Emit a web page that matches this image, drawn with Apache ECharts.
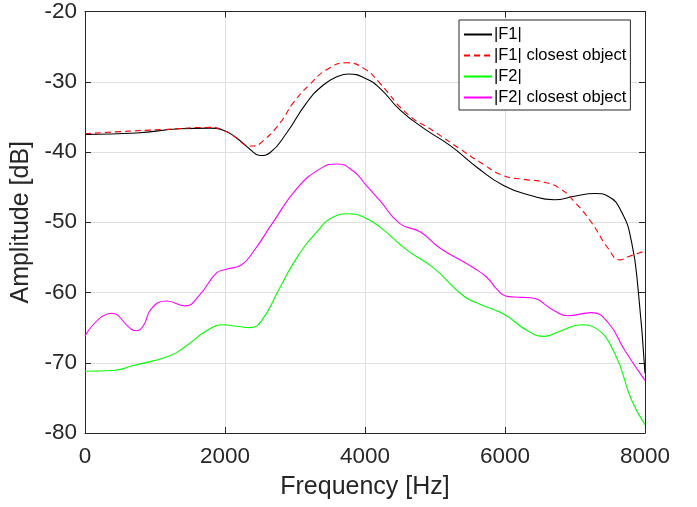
<!DOCTYPE html>
<html>
<head>
<meta charset="utf-8">
<script src="https://cdn.jsdelivr.net/npm/echarts@6/dist/echarts.min.js"></script>
<style>html,body{margin:0;padding:0;background:#fff}#c{width:697px;height:507px}</style>
</head>
<body>
<div id="c"></div>
<script>
var seriesNames = ['|F1|', '|F1| closest object', '|F2|', '|F2| closest object'];
var xTicks = [0, 2000, 4000, 6000, 8000];
var yTicks = [-80, -70, -60, -50, -40, -30, -20];

var f1Freq = [0,740,1357,1785,1975,2166,2356,2500,2642,2880,3165,3400,3600,3770,4000,4211,4499,4835,5218,5602,5986,6369,6705,6993,7281,7472,7664,7808,7904,8000];
var f1Amp  = [-37.5,-37.3,-36.7,-36.6,-36.9,-38,-39.6,-40.5,-40.1,-37.3,-33.0,-30.5,-29.3,-28.9,-29.5,-30.9,-34.0,-36.6,-39.1,-42.2,-44.8,-46.2,-46.8,-46.3,-45.9,-46.3,-48.5,-52.8,-59.8,-71.5];

var f1cFreq = [0,500,1120,1785,1975,2166,2308,2404,2523,2785,2975,3200,3450,3730,4000,4211,4595,4978,5362,5650,5986,6273,6561,6801,6993,7233,7472,7640,7760,8000];
var f1cAmp  = [-37.4,-37.1,-36.8,-36.5,-36.9,-38,-39.06,-39.15,-38.6,-35.9,-33.0,-30.5,-28.3,-27.3,-28.2,-30.2,-34.5,-37.0,-39.6,-41.5,-43.4,-43.9,-44.3,-45.3,-47.1,-50.0,-53.7,-55.35,-54.9,-54.1];

var f2Freq = [0,405,690,1214,1452,1737,1975,2166,2356,2523,2785,3023,3309,3547,3760,3975,4211,4595,4978,5410,5650,5986,6321,6561,6801,7089,7281,7568,7808,8000];
var f2Amp  = [-71.2,-71.1,-70.4,-69,-67.55,-65.45,-64.6,-64.8,-65,-64,-59.3,-55.1,-51.4,-49.25,-48.8,-49.25,-50.65,-53.94,-56.5,-60.5,-61.7,-63.1,-65.45,-66.24,-65.45,-64.6,-65,-68.7,-75.3,-78.8];

var f2cFreq = [0,381,643,728,833,952,1166,1428,1642,1880,2023,2237,2404,2690,3023,3356,3594,3832,4022,4211,4499,4787,5074,5554,5746,5890,6010,6130,6369,6705,6897,7233,7472,7712,8000];
var f2cAmp  = [-66.15,-62.96,-65.07,-65.45,-64.74,-62.25,-61.2,-61.9,-60.3,-57.2,-56.7,-56.05,-54.2,-49.95,-45.25,-42.4,-41.7,-42.7,-44.8,-46.9,-50.2,-51.36,-53.7,-56.5,-57.9,-59.6,-60.5,-60.65,-60.75,-62.6,-63.3,-62.86,-64.27,-68.26,-72.5];

function pairs(xs, ys){ return xs.map(function(x,i){ return [x, ys[i]]; }); }

var FONT = 'Liberation Sans';
var AXC = '#262626';
var GRIDC = '#e0e0e0';

var chart = echarts.init(document.getElementById('c'), null, {renderer:'canvas'});

function mkX(pos, show){
  return {
    type:'value', position:pos, min:xTicks[0], max:xTicks[xTicks.length-1], interval:xTicks[1]-xTicks[0],
    axisLine:{show:true, onZero:false, lineStyle:{color:AXC, width:1}},
    axisTick:{show:true, inside:true, length:6, lineStyle:{color:AXC}},
    axisLabel:{show:show, color:AXC, fontFamily:FONT, fontSize:22.5, margin:12,
               formatter:function(v){ return String(v); }},
    splitLine:{show:show, lineStyle:{color:GRIDC, width:1}},
    name: show ? 'Frequency [Hz]' : '', nameLocation:'middle', nameGap:42,
    nameTextStyle:{color:AXC, fontFamily:FONT, fontSize:25}
  };
}
function mkY(pos, show){
  return {
    type:'value', position:pos, min:yTicks[0], max:yTicks[yTicks.length-1], interval:yTicks[1]-yTicks[0],
    axisLine:{show:true, onZero:false, lineStyle:{color:AXC, width:1}},
    axisTick:{show:true, inside:true, length:6, lineStyle:{color:AXC}},
    axisLabel:{show:show, color:AXC, fontFamily:FONT, fontSize:22.5, margin:8,
               formatter:function(v){ return String(v); }},
    splitLine:{show:show, lineStyle:{color:GRIDC, width:1}},
    name: show ? 'Amplitude [dB]' : '', nameLocation:'middle', nameGap:46, nameRotate:90,
    nameTextStyle:{color:AXC, fontFamily:FONT, fontSize:25}
  };
}

function line(name, data, color, type){
  return {
    name:name, type:'line', data:data, symbol:'none', smooth:0.5,
    animation:false,
    lineStyle:{color:color, width:1.1, type:type},
    itemStyle:{color:color}
  };
}

chart.setOption({
  animation:false,
  backgroundColor:'#fff',
  grid:{left:85, right:52, top:10, bottom:74, containLabel:false},
  xAxis:[mkX('bottom', true), mkX('top', false)],
  yAxis:[mkY('left', true), mkY('right', false)],
  legend:{
    orient:'vertical', left:459, top:20,
    backgroundColor:'#fff', borderColor:AXC, borderWidth:1, borderRadius:0,
    padding:[6,4,4,4], itemGap:4, itemWidth:28, itemHeight:16,
    itemStyle:{opacity:0},
    textStyle:{color:'#000', fontFamily:FONT, fontSize:16.5, padding:[0,0,0,-3]},
    data: seriesNames
  },
  series:[
    line(seriesNames[0], pairs(f1Freq, f1Amp), '#000000', 'solid'),
    line(seriesNames[1], pairs(f1cFreq, f1cAmp), '#ff0000', [6,4]),
    line(seriesNames[2], pairs(f2Freq, f2Amp), '#00ff00', 'solid'),
    line(seriesNames[3], pairs(f2cFreq, f2cAmp), '#ff00ff', 'solid')
  ]
});
</script>
</body>
</html>
